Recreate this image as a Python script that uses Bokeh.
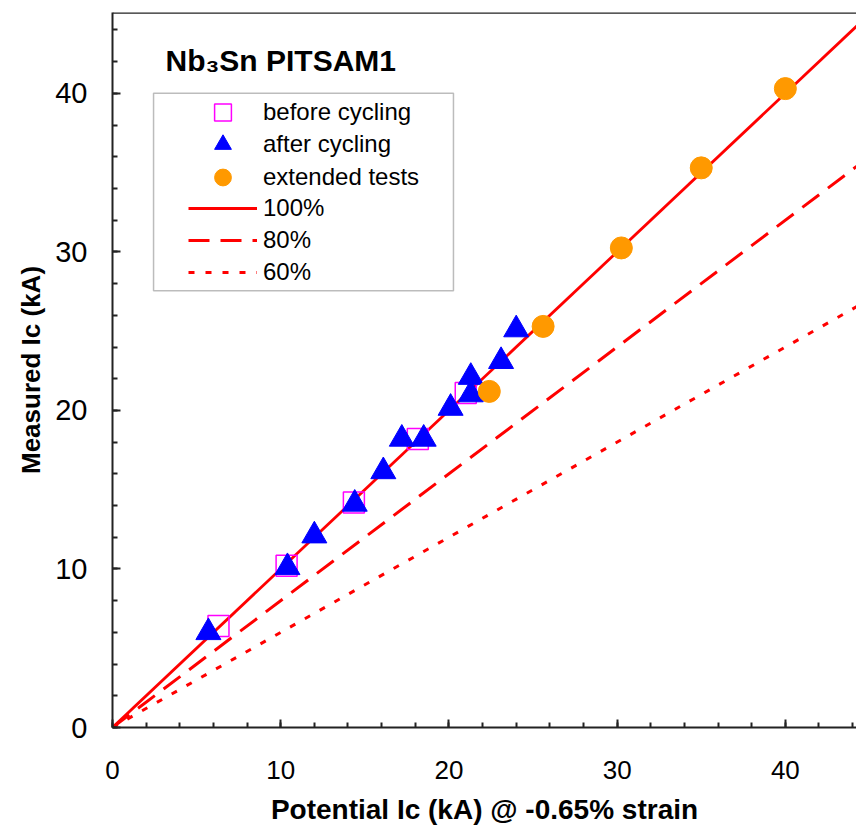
from bokeh.plotting import figure
from bokeh.models import (Range1d, SingleIntervalTicker, Legend, LegendItem,
                          BoxAnnotation, Label, Span)
from bokeh.embed import file_html
from bokeh.resources import INLINE

# ---- data ----
before_x = [6.3, 10.35, 14.35, 18.15, 21.0]
before_y = [6.4, 10.2, 14.2, 18.2, 21.1]

after_x = [5.7, 10.4, 12.0, 14.4, 16.1, 17.2, 18.5, 20.1, 21.3, 21.3, 23.1, 24.0]
after_y = [6.0, 10.1, 12.1, 14.1, 16.15, 18.2, 18.2, 20.15, 22.1, 21.0, 23.1, 25.1]

ext_x = [22.4, 25.6, 30.25, 35.0, 40.0]
ext_y = [21.2, 25.3, 30.25, 35.3, 40.3]

line_x = [0, 50]
line_100 = [0, 50]
line_80 = [0, 40]
line_60 = [0, 30]

labels = ["before cycling", "after cycling", "extended tests", "100%", "80%", "60%"]
title_text = "Nb\u2083Sn PITSAM1"
x_title = "Potential Ic (kA) @ -0.65% strain"
y_title = "Measured Ic (kA)"

FONT = "Liberation Sans"
RED = "#FF0000"

p = figure(width=856, height=830, output_backend="svg", toolbar_location=None,
           x_range=Range1d(0, 44.23), y_range=Range1d(0, 45.1),
           min_border_left=112, min_border_right=0, min_border_top=12,
           min_border_bottom=103)
p.outline_line_color = None
p.xgrid.visible = False
p.ygrid.visible = False
p.background_fill_color = "white"
p.border_fill_color = "white"

for ax, lsize in ((p.xaxis[0], "26px"), (p.yaxis[0], "29px")):
    ax.ticker = SingleIntervalTicker(interval=10, num_minor_ticks=5)
    ax.axis_line_color = "#222222"
    ax.axis_line_width = 2
    ax.major_tick_in = 8
    ax.major_tick_out = 0
    ax.minor_tick_in = 5
    ax.minor_tick_out = 0
    ax.major_tick_line_color = "#222222"
    ax.minor_tick_line_color = "#222222"
    ax.major_tick_line_width = 2
    ax.minor_tick_line_width = 2
    ax.major_label_text_font = FONT
    ax.major_label_text_font_size = lsize
    ax.major_label_text_color = "black"
    ax.axis_label_text_font = FONT
    ax.axis_label_text_font_style = "bold"
    ax.axis_label_text_color = "black"

p.xaxis.axis_label = x_title
p.xaxis.axis_label_text_font_size = "28px"
p.xaxis.major_label_standoff = 33
p.xaxis.axis_label_standoff = 12
p.yaxis.axis_label = y_title
p.yaxis.axis_label_text_font_size = "26px"
p.yaxis.major_label_standoff = 25
p.yaxis.axis_label_standoff = 6

# top frame line
p.add_layout(Span(location=45.08, dimension="width", line_color="#222222", line_width=2))

# reference lines
r100 = p.line(line_x, line_100, line_color=RED, line_width=2.8)
r80 = p.line(line_x, line_80, line_color=RED, line_width=3, line_dash="21 11")
r60 = p.line(line_x, line_60, line_color=RED, line_width=3, line_dash="6 11")

# markers
r_sq = p.scatter(before_x, before_y, marker="square", size=21, fill_color=None,
                 line_color="#FF00FF", line_width=1.5)
r_tri = p.scatter(after_x, after_y, marker="triangle", size=25, fill_color="#0000FF",
                  line_color="#0000FF", line_width=1)
r_ext = p.scatter(ext_x, ext_y, marker="circle", size=22, fill_color="#FF9900",
                  line_color="#FF9900", line_width=1)

# legend frame
p.add_layout(BoxAnnotation(left=2.44, right=20.27, top=40.0, bottom=27.55,
                           fill_color="white", fill_alpha=1.0,
                           line_color="#222222", line_width=1.5))

# one single-item legend per row, so rows can be spaced like the reference
renderers = [r_sq, r_tri, r_ext, r100, r80, r60]
row_center_px = [111.7, 143.5, 176.0, 207.0, 239.3, 271.5]
frame_bottom_px = 726.5
for lab, rend, c in zip(labels, renderers, row_center_px):
    gh = 42 if rend in (r_sq, r_tri, r_ext) else 30
    loc_y = frame_bottom_px - c - gh / 2
    lg = Legend(items=[LegendItem(label=lab, renderers=[rend])],
                location=(76, loc_y), padding=0, margin=0, spacing=0,
                glyph_width=69, glyph_height=gh, label_height=22,
                label_standoff=6, label_text_font=FONT,
                label_text_font_size="24px", label_text_color="black",
                border_line_color=None, background_fill_alpha=0)
    p.add_layout(lg)

p.add_layout(Label(x=3.15, y=42.05, text=title_text, text_font=FONT,
                   text_font_style="bold", text_font_size="30px",
                   text_color="black", text_baseline="alphabetic"))

open("out.html", "w").write(file_html(p, INLINE))
